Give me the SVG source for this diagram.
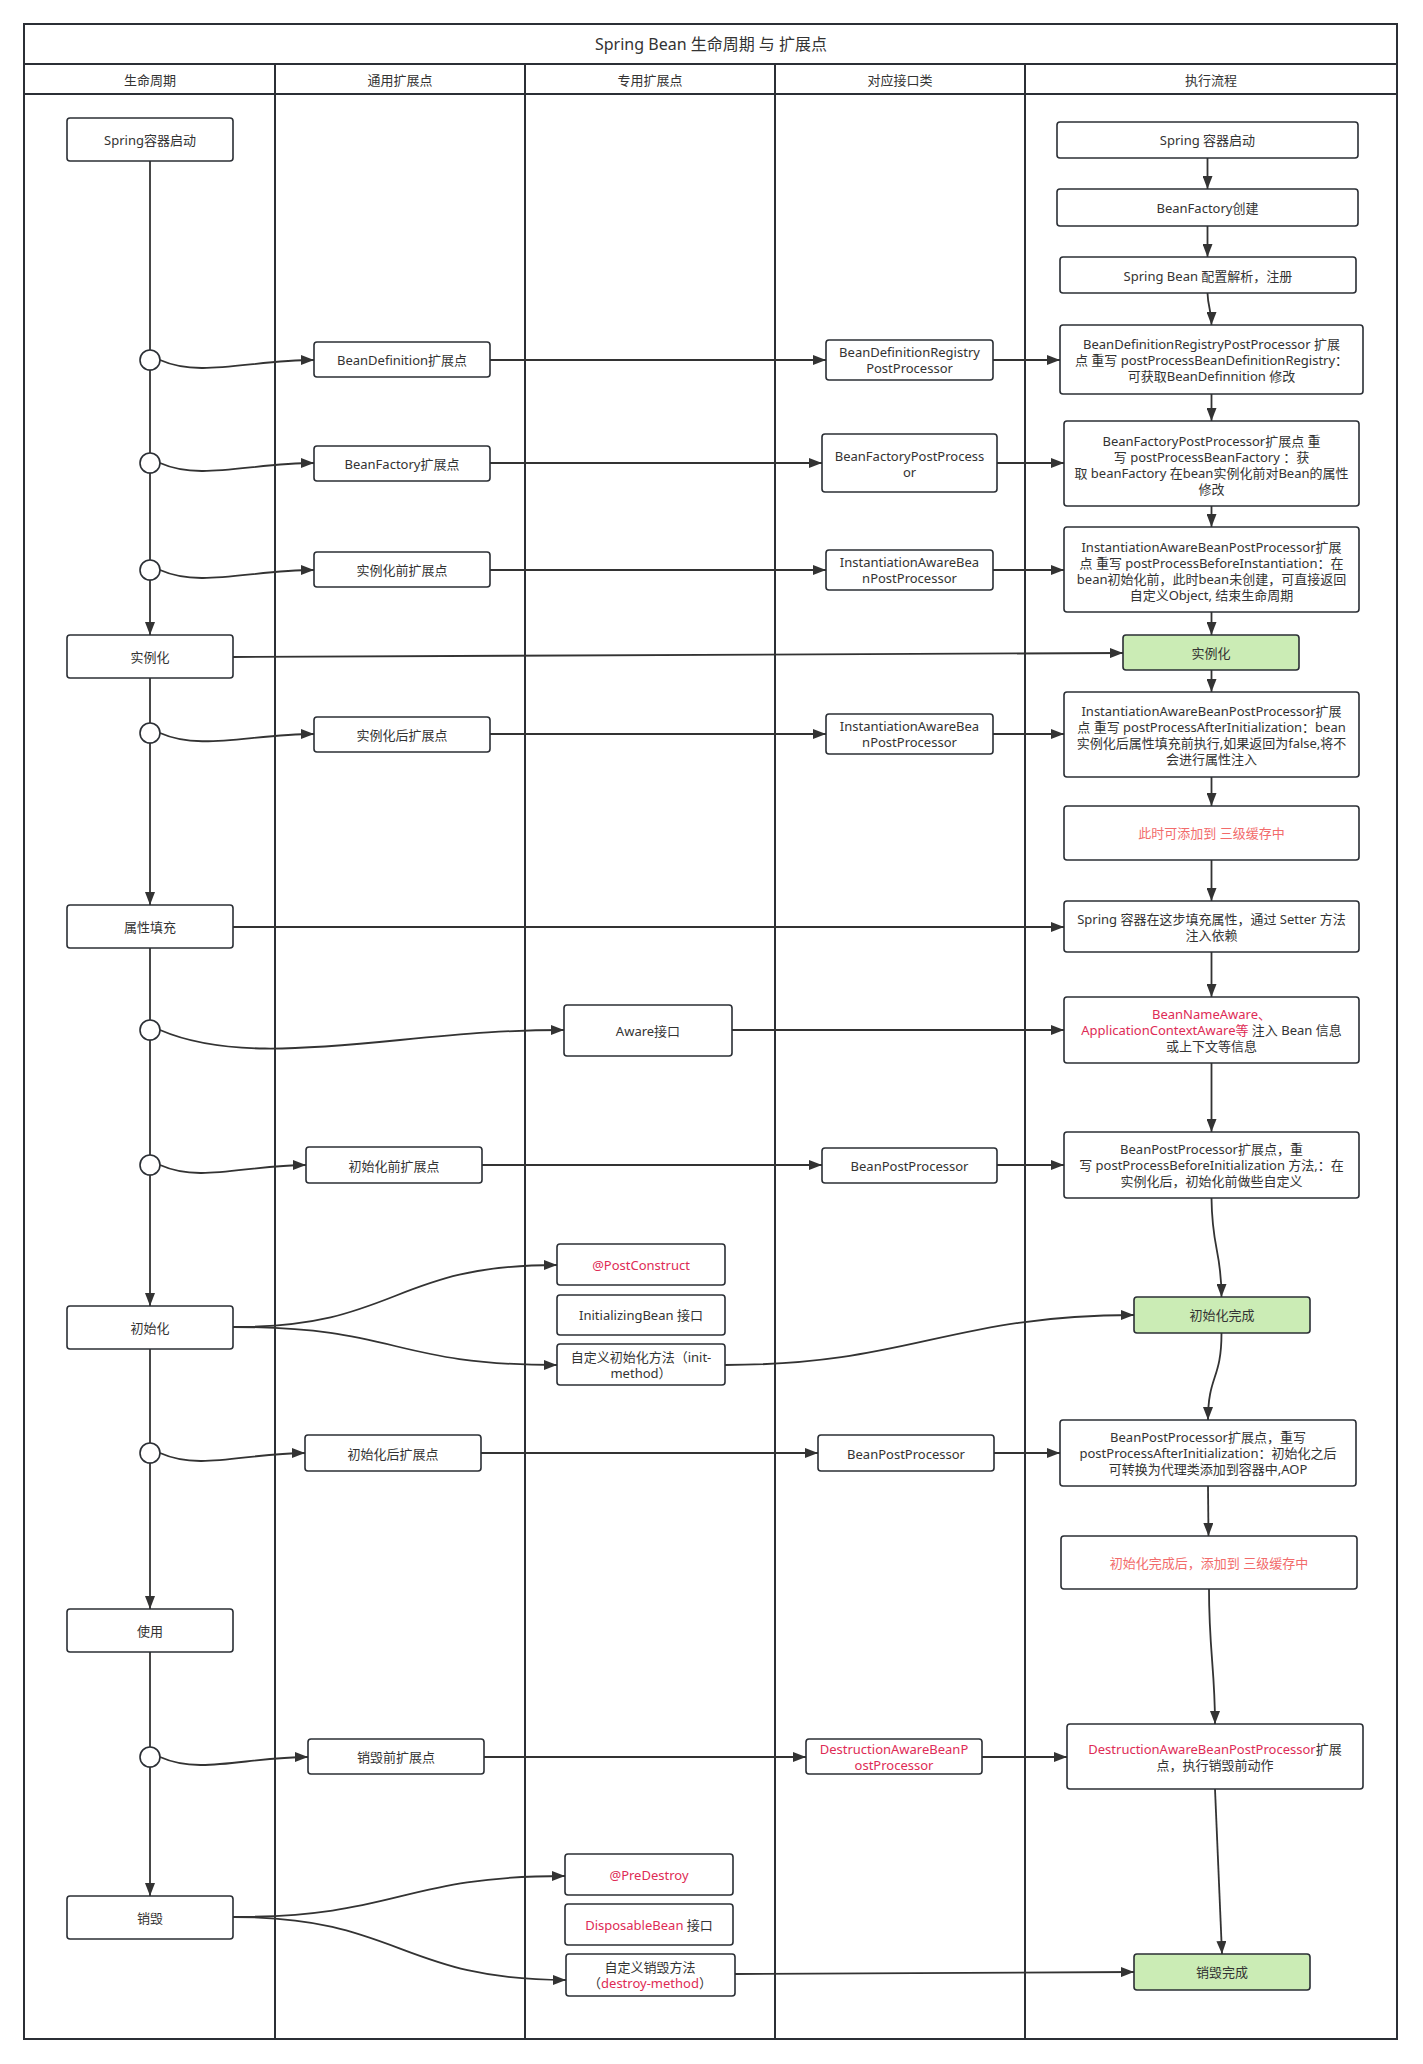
<svg xmlns="http://www.w3.org/2000/svg" width="1423" height="2064" viewBox="0 0 1423 2064">
  <style>
    text { font-family: "Noto Sans", "Noto Sans CJK SC", sans-serif; font-size: 13px; fill: #333; text-anchor: middle; dominant-baseline: central; }
    .title { font-size: 16px; }
    .lane { fill: none; stroke: #2b2f35; stroke-width: 2; }
    .box { fill: #fff; stroke: #2b2f35; stroke-width: 1.6; }
    .done { fill: #cbecb5; stroke: #2b2f35; stroke-width: 1.6; }
    .dot { fill: #fff; stroke: #2b2f35; stroke-width: 1.6; }
    .edge { fill: none; stroke: #333; stroke-width: 1.8; }
    .arrow { marker-end: url(#head); }
    .hot { fill: #de2b55; }
    .warn { fill: #f26b6b; }
  </style>
  <defs>
    <marker id="head" markerUnits="userSpaceOnUse" markerWidth="13" markerHeight="10" viewBox="0 0 13 10" refX="13" refY="5" orient="auto">
      <path d="M0,0 L13,5 L0,10 z" fill="#333"/>
    </marker>
  </defs>

  <rect width="1423" height="2064" fill="#fff"/>

  <!-- swimlane frame -->
  <g id="lanes">
    <rect class="lane" x="24" y="24" width="1373" height="2015"/>
    <line class="lane" x1="24" y1="64" x2="1397" y2="64"/>
    <line class="lane" x1="24" y1="94" x2="1397" y2="94"/>
    <line class="lane" x1="275" y1="64" x2="275" y2="2039"/>
    <line class="lane" x1="525" y1="64" x2="525" y2="2039"/>
    <line class="lane" x1="775" y1="64" x2="775" y2="2039"/>
    <line class="lane" x1="1025" y1="64" x2="1025" y2="2039"/>
    <text class="title" x="711" y="44">Spring Bean 生命周期 与 扩展点</text>
    <text x="150" y="80">生命周期</text>
    <text x="400" y="80">通用扩展点</text>
    <text x="650" y="80">专用扩展点</text>
    <text x="900" y="80">对应接口类</text>
    <text x="1211" y="80">执行流程</text>
  </g>

  <g id="connectors">
    <!-- lifecycle spine -->
    <path class="edge arrow" d="M150,161 L150,635"/>
    <path class="edge arrow" d="M150,678 L150,905"/>
    <path class="edge arrow" d="M150,948 L150,1306"/>
    <path class="edge arrow" d="M150,1349 L150,1609"/>
    <path class="edge arrow" d="M150,1652 L150,1896"/>

    <!-- junctions to general extension points -->
    <path class="edge arrow" d="M160,360 C200,378 250,360 314,360"/>
    <path class="edge arrow" d="M160,463 C200,481 250,463 314,463"/>
    <path class="edge arrow" d="M160,570 C200,588 250,570 314,570"/>
    <path class="edge arrow" d="M160,733 C200,751 250,734 314,734"/>
    <path class="edge arrow" d="M160,1030 C220,1056 300,1050 400,1040 C470,1033 510,1030 564,1030"/>
    <path class="edge arrow" d="M160,1165 C200,1183 245,1165 306,1165"/>
    <path class="edge arrow" d="M160,1453 C200,1471 245,1453 305,1453"/>
    <path class="edge arrow" d="M160,1757 C200,1775 245,1757 308,1757"/>

    <!-- extension point to interface -->
    <path class="edge arrow" d="M490,360 L826,360"/>
    <path class="edge arrow" d="M490,463 L822,463"/>
    <path class="edge arrow" d="M490,570 L826,570"/>
    <path class="edge arrow" d="M490,734 L826,734"/>
    <path class="edge arrow" d="M482,1165 L822,1165"/>
    <path class="edge arrow" d="M481,1453 L818,1453"/>
    <path class="edge arrow" d="M484,1757 L806,1757"/>

    <!-- interface to execution step -->
    <path class="edge arrow" d="M993,360 L1060,360"/>
    <path class="edge arrow" d="M997,463 L1064,463"/>
    <path class="edge arrow" d="M993,570 L1064,570"/>
    <path class="edge arrow" d="M993,734 L1064,734"/>
    <path class="edge arrow" d="M732,1030 L1064,1030"/>
    <path class="edge arrow" d="M997,1165 L1064,1165"/>
    <path class="edge arrow" d="M994,1453 L1060,1453"/>
    <path class="edge arrow" d="M982,1757 L1067,1757"/>

    <!-- lifecycle stage to execution step -->
    <path class="edge arrow" d="M233,657 L1123,653"/>
    <path class="edge arrow" d="M233,927 L1064,927"/>

    <!-- init / destroy fan-out -->
    <path class="edge arrow" d="M233,1327 C400,1327 390,1265 557,1265"/>
    <path class="edge arrow" d="M233,1327 C400,1327 390,1365 557,1365"/>
    <path class="edge arrow" d="M725,1365 C910,1365 950,1315 1134,1315"/>
    <path class="edge arrow" d="M233,1917 C400,1917 400,1876 565,1876"/>
    <path class="edge arrow" d="M233,1917 C400,1917 400,1980 566,1980"/>
    <path class="edge arrow" d="M735,1974 L1134,1972"/>

    <!-- execution flow -->
    <path class="edge arrow" d="M1207.5,158 L1207.5,189"/>
    <path class="edge arrow" d="M1207.5,226 L1207.5,257"/>
    <path class="edge arrow" d="M1207.5,293 C1208,308 1211.5,310 1211.5,325"/>
    <path class="edge arrow" d="M1211.5,394 L1211.5,421"/>
    <path class="edge arrow" d="M1211.5,506 L1211.5,527"/>
    <path class="edge arrow" d="M1211.5,612 L1211.5,635"/>
    <path class="edge arrow" d="M1211.5,670 L1211.5,692"/>
    <path class="edge arrow" d="M1211.5,777 L1211.5,806"/>
    <path class="edge arrow" d="M1211.5,860 L1211.5,901"/>
    <path class="edge arrow" d="M1211.5,952 L1211.5,997"/>
    <path class="edge arrow" d="M1211.5,1063 L1211.5,1132"/>
    <path class="edge arrow" d="M1211.5,1198 C1212,1250 1221.5,1250 1221.5,1297"/>
    <path class="edge arrow" d="M1221.5,1333 C1221.5,1380 1208,1375 1208,1420"/>
    <path class="edge arrow" d="M1208,1486 L1208.5,1536"/>
    <path class="edge arrow" d="M1209,1589 C1209,1650 1215,1670 1215,1724"/>
    <path class="edge arrow" d="M1215,1789 L1222,1954"/>
  </g>

  <!-- lifecycle stages -->
  <g id="stage-start"><rect class="box" x="67" y="118" width="166" height="43" rx="3"/><text x="150" y="140">Spring容器启动</text></g>
  <g id="stage-instantiate"><rect class="box" x="67" y="635" width="166" height="43" rx="3"/><text x="150" y="657">实例化</text></g>
  <g id="stage-populate"><rect class="box" x="67" y="905" width="166" height="43" rx="3"/><text x="150" y="927">属性填充</text></g>
  <g id="stage-init"><rect class="box" x="67" y="1306" width="166" height="43" rx="3"/><text x="150" y="1328">初始化</text></g>
  <g id="stage-use"><rect class="box" x="67" y="1609" width="166" height="43" rx="3"/><text x="150" y="1631">使用</text></g>
  <g id="stage-destroy"><rect class="box" x="67" y="1896" width="166" height="43" rx="3"/><text x="150" y="1918">销毁</text></g>

  <!-- junction points -->
  <g id="junction-1"><circle class="dot" cx="150" cy="360" r="10"/></g>
  <g id="junction-2"><circle class="dot" cx="150" cy="463" r="10"/></g>
  <g id="junction-3"><circle class="dot" cx="150" cy="570" r="10"/></g>
  <g id="junction-4"><circle class="dot" cx="150" cy="733" r="10"/></g>
  <g id="junction-5"><circle class="dot" cx="150" cy="1030" r="10"/></g>
  <g id="junction-6"><circle class="dot" cx="150" cy="1165" r="10"/></g>
  <g id="junction-7"><circle class="dot" cx="150" cy="1453" r="10"/></g>
  <g id="junction-8"><circle class="dot" cx="150" cy="1757" r="10"/></g>

  <!-- general extension points -->
  <g id="ext-beandefinition"><rect class="box" x="314" y="342" width="176" height="35" rx="3"/><text x="402" y="360">BeanDefinition扩展点</text></g>
  <g id="ext-beanfactory"><rect class="box" x="314" y="446" width="176" height="35" rx="3"/><text x="402" y="464">BeanFactory扩展点</text></g>
  <g id="ext-before-inst"><rect class="box" x="314" y="552" width="176" height="35" rx="3"/><text x="402" y="570">实例化前扩展点</text></g>
  <g id="ext-after-inst"><rect class="box" x="314" y="717" width="176" height="35" rx="3"/><text x="402" y="735">实例化后扩展点</text></g>
  <g id="ext-before-init"><rect class="box" x="306" y="1147" width="176" height="36" rx="3"/><text x="394" y="1166">初始化前扩展点</text></g>
  <g id="ext-after-init"><rect class="box" x="305" y="1435" width="176" height="36" rx="3"/><text x="393" y="1454">初始化后扩展点</text></g>
  <g id="ext-before-destroy"><rect class="box" x="308" y="1739" width="176" height="35" rx="3"/><text x="396" y="1757">销毁前扩展点</text></g>

  <!-- dedicated extension points -->
  <g id="aware"><rect class="box" x="564" y="1005" width="168" height="51" rx="3"/><text x="648" y="1031">Aware接口</text></g>
  <g id="post-construct"><rect class="box" x="557" y="1244" width="168" height="41" rx="3"/><text class="hot" x="641" y="1265">@PostConstruct</text></g>
  <g id="initializing-bean"><rect class="box" x="557" y="1295" width="168" height="40" rx="3"/><text x="641" y="1315">InitializingBean 接口</text></g>
  <g id="init-method"><rect class="box" x="557" y="1344" width="168" height="41" rx="3"/><text x="641" y="1357">自定义初始化方法（init-</text><text x="641" y="1373">method）</text></g>
  <g id="pre-destroy"><rect class="box" x="565" y="1854" width="168" height="41" rx="3"/><text class="hot" x="649" y="1875">@PreDestroy</text></g>
  <g id="disposable-bean"><rect class="box" x="565" y="1904" width="168" height="41" rx="3"/><text x="649" y="1925"><tspan class="hot">DisposableBean</tspan> 接口</text></g>
  <g id="destroy-method"><rect class="box" x="566" y="1954" width="169" height="42" rx="3"/><text x="650" y="1967">自定义销毁方法</text><text x="650" y="1983">（<tspan class="hot">destroy-method</tspan>）</text></g>

  <!-- interfaces -->
  <g id="if-bdrpp"><rect class="box" x="826" y="340" width="167" height="40" rx="3"/><text x="909.5" y="352">BeanDefinitionRegistry</text><text x="909.5" y="368">PostProcessor</text></g>
  <g id="if-bfpp"><rect class="box" x="822" y="434" width="175" height="58" rx="3"/><text x="909.5" y="456">BeanFactoryPostProcess</text><text x="909.5" y="472">or</text></g>
  <g id="if-iabpp-1"><rect class="box" x="826" y="550" width="167" height="40" rx="3"/><text x="909.5" y="562">InstantiationAwareBea</text><text x="909.5" y="578">nPostProcessor</text></g>
  <g id="if-iabpp-2"><rect class="box" x="826" y="714" width="167" height="40" rx="3"/><text x="909.5" y="726">InstantiationAwareBea</text><text x="909.5" y="742">nPostProcessor</text></g>
  <g id="if-bpp-1"><rect class="box" x="822" y="1148" width="175" height="35" rx="3"/><text x="909.5" y="1166">BeanPostProcessor</text></g>
  <g id="if-bpp-2"><rect class="box" x="818" y="1435" width="176" height="36" rx="3"/><text x="906" y="1454">BeanPostProcessor</text></g>
  <g id="if-dabpp"><rect class="box" x="806" y="1739" width="176" height="35" rx="3"/><text class="hot" x="894" y="1749">DestructionAwareBeanP</text><text class="hot" x="894" y="1765">ostProcessor</text></g>

  <!-- execution flow -->
  <g id="run-start"><rect class="box" x="1057" y="122" width="301" height="36" rx="3"/><text x="1207.5" y="140">Spring 容器启动</text></g>
  <g id="run-factory"><rect class="box" x="1057" y="189" width="301" height="37" rx="3"/><text x="1207.5" y="208">BeanFactory创建</text></g>
  <g id="run-parse"><rect class="box" x="1060" y="257" width="296" height="36" rx="3"/><text x="1208" y="276">Spring Bean 配置解析，注册</text></g>
  <g id="run-bdrpp"><rect class="box" x="1060" y="325" width="303" height="69" rx="3"/>
    <text x="1211.5" y="344">BeanDefinitionRegistryPostProcessor 扩展</text>
    <text x="1211.5" y="360">点 重写 postProcessBeanDefinitionRegistry：</text>
    <text x="1211.5" y="376">可获取BeanDefinnition 修改</text></g>
  <g id="run-bfpp"><rect class="box" x="1064" y="421" width="295" height="85" rx="3"/>
    <text x="1211.5" y="441">BeanFactoryPostProcessor扩展点 重</text>
    <text x="1211.5" y="457">写 postProcessBeanFactory ：获</text>
    <text x="1211.5" y="473">取 beanFactory 在bean实例化前对Bean的属性</text>
    <text x="1211.5" y="489">修改</text></g>
  <g id="run-before-inst"><rect class="box" x="1064" y="527" width="295" height="85" rx="3"/>
    <text x="1211.5" y="547">InstantiationAwareBeanPostProcessor扩展</text>
    <text x="1211.5" y="563">点 重写 postProcessBeforeInstantiation：在</text>
    <text x="1211.5" y="579">bean初始化前，此时bean未创建，可直接返回</text>
    <text x="1211.5" y="595">自定义Object, 结束生命周期</text></g>
  <g id="run-instantiated"><rect class="done" x="1123" y="635" width="176" height="35" rx="3"/><text x="1211" y="653">实例化</text></g>
  <g id="run-after-inst"><rect class="box" x="1064" y="692" width="295" height="85" rx="3"/>
    <text x="1211.5" y="711">InstantiationAwareBeanPostProcessor扩展</text>
    <text x="1211.5" y="727">点 重写 postProcessAfterInitialization：bean</text>
    <text x="1211.5" y="743">实例化后属性填充前执行,如果返回为false,将不</text>
    <text x="1211.5" y="759">会进行属性注入</text></g>
  <g id="run-cache-early"><rect class="box" x="1064" y="806" width="295" height="54" rx="3"/><text class="warn" x="1211.5" y="833">此时可添加到 三级缓存中</text></g>
  <g id="run-populate"><rect class="box" x="1064" y="901" width="295" height="51" rx="3"/>
    <text x="1211.5" y="919">Spring 容器在这步填充属性，通过 Setter 方法</text>
    <text x="1211.5" y="935">注入依赖</text></g>
  <g id="run-aware"><rect class="box" x="1064" y="997" width="295" height="66" rx="3"/>
    <text class="hot" x="1211.5" y="1014">BeanNameAware、</text>
    <text x="1211.5" y="1030"><tspan class="hot">ApplicationContextAware等</tspan> 注入 Bean 信息</text>
    <text x="1211.5" y="1046">或上下文等信息</text></g>
  <g id="run-before-init"><rect class="box" x="1064" y="1132" width="295" height="66" rx="3"/>
    <text x="1211.5" y="1149">BeanPostProcessor扩展点，重</text>
    <text x="1211.5" y="1165">写 postProcessBeforeInitialization 方法,：在</text>
    <text x="1211.5" y="1181">实例化后，初始化前做些自定义</text></g>
  <g id="run-initialized"><rect class="done" x="1134" y="1297" width="176" height="36" rx="3"/><text x="1222" y="1315">初始化完成</text></g>
  <g id="run-after-init"><rect class="box" x="1060" y="1420" width="296" height="66" rx="3"/>
    <text x="1208" y="1437">BeanPostProcessor扩展点，重写</text>
    <text x="1208" y="1453">postProcessAfterInitialization：初始化之后</text>
    <text x="1208" y="1469">可转换为代理类添加到容器中,AOP</text></g>
  <g id="run-cache-final"><rect class="box" x="1061" y="1536" width="296" height="53" rx="3"/><text class="warn" x="1209" y="1563">初始化完成后，添加到 三级缓存中</text></g>
  <g id="run-before-destroy"><rect class="box" x="1067" y="1724" width="296" height="65" rx="3"/>
    <text x="1215" y="1749"><tspan class="hot">DestructionAwareBeanPostProcessor</tspan>扩展</text>
    <text x="1215" y="1765">点，执行销毁前动作</text></g>
  <g id="run-destroyed"><rect class="done" x="1134" y="1954" width="176" height="36" rx="3"/><text x="1222" y="1972">销毁完成</text></g>
</svg>
